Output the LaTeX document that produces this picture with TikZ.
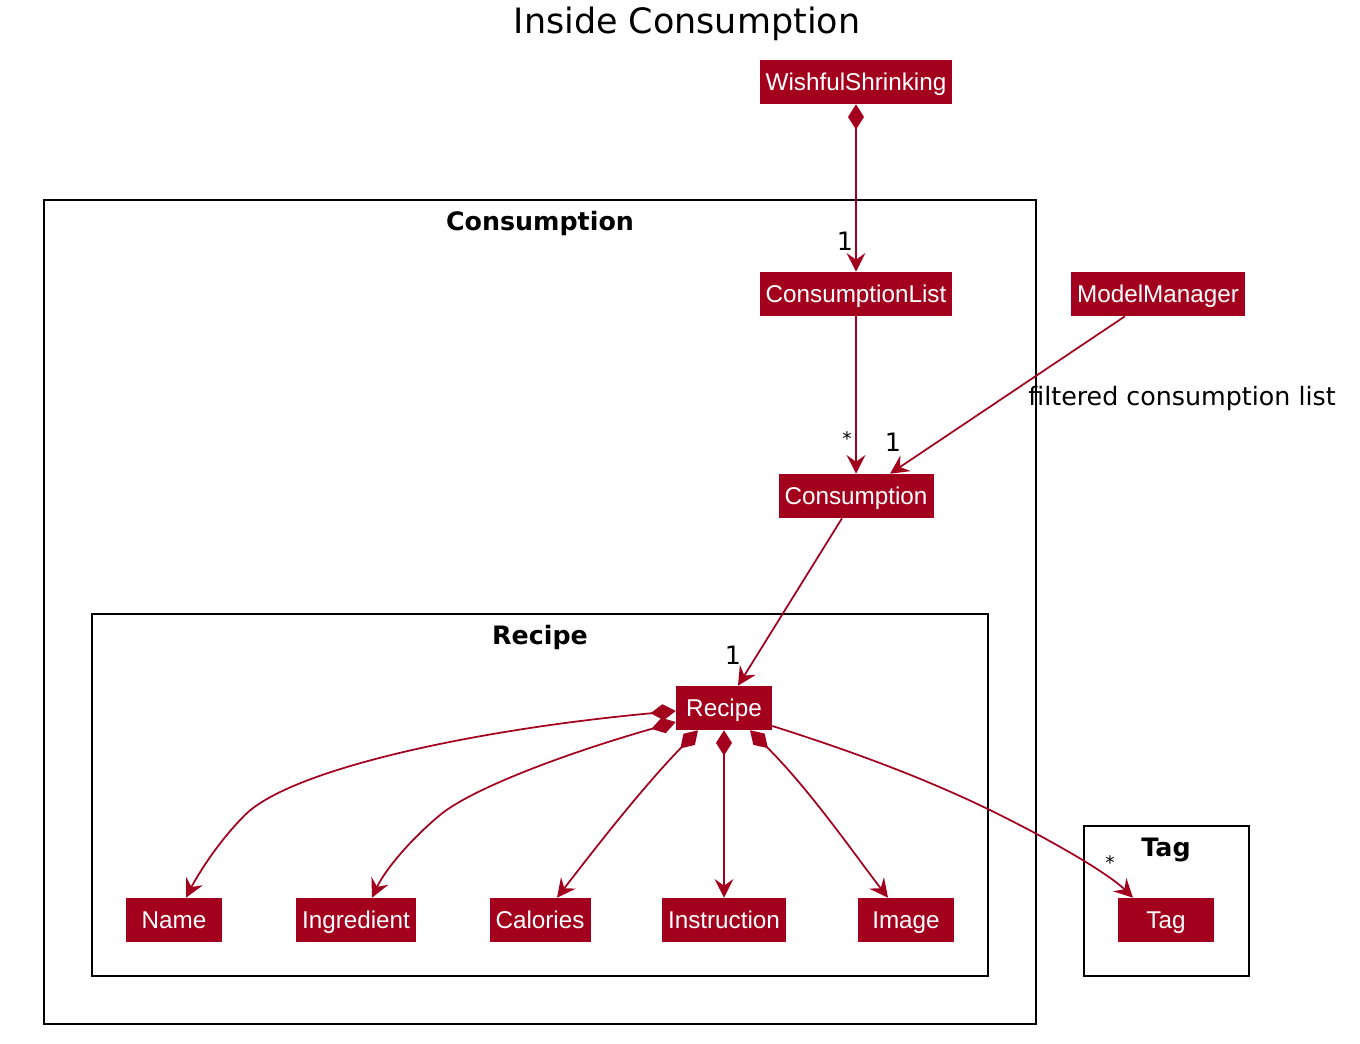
\documentclass[tikz,border=0pt]{standalone}
\usepackage{fontspec}
\setmainfont{Liberation Sans}
\newfontfamily\djv{DejaVu Sans}
\usetikzlibrary{arrows.meta,calc}
\definecolor{umlred}{RGB}{163,0,30}
\begin{document}
\begin{tikzpicture}[x=0.75pt,y=-0.75pt,
  cls/.style={fill=umlred, draw=none, text=white, font=\fontsize{18.2}{20}\selectfont,
    minimum height=33pt, minimum width=72pt, inner xsep=4.5pt, inner ysep=0pt,
    text height=14.5pt, text depth=2pt},
  pkg/.style={draw=black, line width=1.6pt, fill=none},
  pkglbl/.style={font=\djv\bfseries\fontsize{19}{22}\selectfont, anchor=center},
  lbl/.style={font=\djv\fontsize{19}{21}\selectfont, inner sep=0pt},
  star/.style={font=\djv\fontsize{14}{16}\selectfont, inner sep=0pt},
  rel/.style={draw=umlred, line width=1.3pt, -{Stealth[length=14pt,width=14pt,inset=5pt]}},
  comp/.style={draw=umlred, line width=1.3pt, {Diamond[length=19pt,width=12pt]}-{Stealth[length=14pt,width=14pt,inset=5pt]}}
]
\useasboundingbox (0,0) rectangle (1360,1044);
\fill[white] (0,0) rectangle (1360,1044);

\node[font=\djv\fontsize{26.2}{30}\selectfont] (title) at (687,24) {Inside Consumption};

% packages
\draw[pkg] (44,200) rectangle (1036,1024);
\node[pkglbl] (pConsumption) at (540,224) {Consumption};
\draw[pkg] (92,614) rectangle (988,976);
\node[pkglbl] (pRecipe) at (540,638) {Recipe};
\draw[pkg] (1084,826) rectangle (1249,976);
\node[pkglbl] (pTag) at (1166,850) {Tag};

% classes
\node[cls] (ws) at (856,82) {WishfulShrinking};
\node[cls] (cl) at (856,294) {ConsumptionList};
\node[cls] (mm) at (1158,294) {ModelManager};
\node[cls] (cons) at (856,496) {Consumption};
\node[cls] (recipe) at (724,708) {Recipe};
\node[cls] (name) at (174,920) {Name};
\node[cls] (ingr) at (356,920) {Ingredient};
\node[cls] (cal) at (540,920) {Calories};
\node[cls] (instr) at (724,920) {Instruction};
\node[cls] (img) at (906,920) {Image};
\node[cls] (tag) at (1166,920) {Tag};

% relations
\draw[comp] (ws.south) -- (cl.north);
\node[lbl] (m1) at (845,241) {1};

\draw[rel] (cl.south) -- (cons.north);
\node[star] (m2) at (847,439) {*};

\draw[rel] ($(mm.south)+(-33,0)$) -- ($(cons.north)+(34,0)$);
\node[lbl] (m3) at (893,442) {1};
\node[lbl] (fl) at (1182,399) {filtered consumption list};

\draw[rel] ($(cons.south)+(-14,0)$) -- ($(recipe.north)+(14,0)$);
\node[lbl] (m4) at (733,655) {1};

\draw[comp] ($(recipe.west)+(0,3)$) .. controls (470,730) and (290,770) .. (245,815) .. controls (215,845) and (195,880) .. ($(name.north)+(12,0)$);
\draw[comp] ($(recipe.west)+(0,14)$) .. controls (560,755) and (470,790) .. (440,815) .. controls (410,840) and (385,870) .. ($(ingr.north)+(16,0)$);
\draw[comp] ($(recipe.south)+(-26,0)$) .. controls (640,790) and (590,855) .. ($(cal.north)+(17,0)$);
\draw[comp] (recipe.south) -- (instr.north);
\draw[comp] ($(recipe.south)+(26,0)$) .. controls (810,790) and (855,855) .. ($(img.north)+(-18,0)$);
\draw[rel] ($(recipe.east)+(0,18)$) .. controls (880,760) and (950,790) .. (1000,815) .. controls (1060,845) and (1110,875) .. ($(tag.north)+(-33,0)$);
\node[star] (m5) at (1110,863) {*};
\end{tikzpicture}
\end{document}
